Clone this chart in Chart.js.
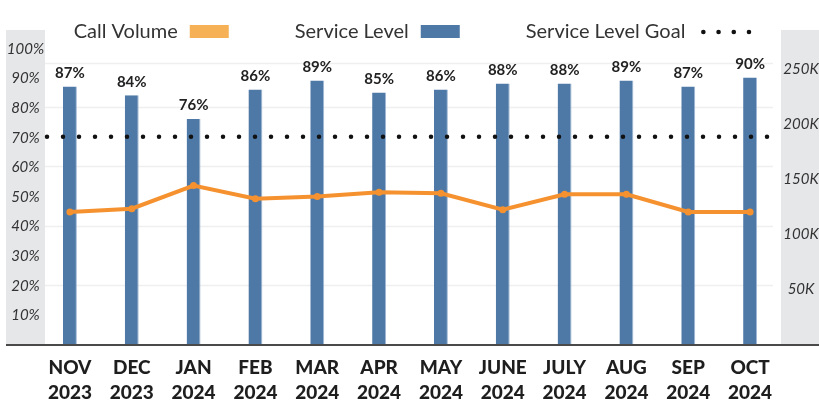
<!DOCTYPE html>
<html>
<head>
<meta charset="utf-8">
<script src="https://cdn.jsdelivr.net/npm/chart.js@4.4.1/dist/chart.umd.min.js"></script>
<style>
  html, body { margin: 0; padding: 0; background: #fff; }
  #wrap { width: 819px; height: 401px; }
</style>
</head>
<body>
<div id="wrap"><canvas id="chart"></canvas></div>
<script>
"use strict";
// data
const months = [
  ["NOV", "2023"], ["DEC", "2023"], ["JAN", "2024"], ["FEB", "2024"],
  ["MAR", "2024"], ["APR", "2024"], ["MAY", "2024"], ["JUNE", "2024"],
  ["JULY", "2024"], ["AUG", "2024"], ["SEP", "2024"], ["OCT", "2024"]
];
const serviceLevel = [87, 84, 76, 86, 89, 85, 86, 88, 88, 89, 87, 90];      // %
const callVolume = [120, 123, 144, 132, 134, 138, 137, 122, 136, 136, 120, 120]; // thousands
const serviceLevelGoal = 70; // %
const gridValues = [20, 40, 60, 80, 95];

const BLUE = "#4e79a7";
const ORANGE = "#f5922f";
const ORANGE_KEY = "#f6b056";
const FONT = "Lato, 'Open Sans', sans-serif";

const decor = {
  id: "decor",
  beforeDraw(chart) {
    const { ctx, chartArea } = chart;
    const top = chartArea.top - 18;
    ctx.save();
    ctx.fillStyle = "#e6e7e9";
    ctx.fillRect(6, top, chartArea.left, chartArea.bottom - top);
    ctx.fillRect(chartArea.right, top, chart.width - chartArea.right, chartArea.bottom - top);
    ctx.restore();
  },
  beforeDatasetsDraw(chart) {
    const { ctx, chartArea, scales } = chart;
    ctx.save();
    ctx.strokeStyle = "#efefef";
    ctx.lineWidth = 1.5;
    gridValues.forEach((v) => {
      const py = Math.round(scales.y.getPixelForValue(v)) + 0.5;
      ctx.beginPath();
      ctx.moveTo(chartArea.left + 6, py);
      ctx.lineTo(chartArea.right - 8, py);
      ctx.stroke();
    });
    // axis tick labels, centred in the grey side panels
    ctx.font = "italic 15px " + FONT;
    ctx.fillStyle = "#333";
    ctx.textAlign = "center";
    ctx.textBaseline = "middle";
    const lx = (6 + chartArea.left + 6) / 2;
    scales.y.ticks.forEach((t) => {
      if (t.value === 0) return;
      ctx.fillText(t.value + "%", lx, scales.y.getPixelForValue(t.value) + 1);
    });
    const rx = (chartArea.right + chart.width) / 2 + 1;
    scales.y1.ticks.forEach((t) => {
      if (t.value === 0 || t.value % 50 !== 0) return;
      ctx.fillText(t.value + "K", rx, scales.y1.getPixelForValue(t.value));
    });
    ctx.restore();
  },
  afterDatasetsDraw(chart) {
    const { ctx, chartArea, scales } = chart;
    ctx.save();
    // bar value labels
    const meta = chart.getDatasetMeta(0);
    ctx.font = "bold 15px " + FONT;
    ctx.fillStyle = "#222";
    ctx.textAlign = "center";
    ctx.textBaseline = "bottom";
    meta.data.forEach((bar, i) => {
      ctx.fillText(serviceLevel[i] + "%", bar.x, bar.y - 6);
    });
    // goal dotted line
    const gy = scales.y.getPixelForValue(serviceLevelGoal);
    ctx.strokeStyle = "#111";
    ctx.lineWidth = 4.5;
    ctx.lineCap = "round";
    ctx.setLineDash([0, 16]);
    ctx.beginPath();
    ctx.moveTo(chartArea.left + 8, gy);
    ctx.lineTo(chartArea.right, gy);
    ctx.stroke();
    ctx.setLineDash([]);
    // baseline
    ctx.strokeStyle = "#4a4a4a";
    ctx.lineWidth = 2;
    ctx.lineCap = "butt";
    ctx.beginPath();
    ctx.moveTo(6, chartArea.bottom + 1);
    ctx.lineTo(chart.width, chartArea.bottom + 1);
    ctx.stroke();
    // legend
    const items = [
      { text: "Call Volume", key: "box", color: ORANGE_KEY },
      { text: "Service Level", key: "box", color: BLUE },
      { text: "Service Level Goal", key: "dots", color: "#111" }
    ];
    ctx.font = "20px " + FONT;
    ctx.textAlign = "left";
    ctx.textBaseline = "middle";
    const ly = 32;
    const widths = items.map((it) => ctx.measureText(it.text).width + (it.key === "box" ? 12 + 39 : 18 + 46));
    const gap = 66;
    const total = widths.reduce((a, b) => a + b, 0) + gap * (items.length - 1);
    let x = (chart.width - total) / 2 + 2;
    items.forEach((it, i) => {
      ctx.fillStyle = "#333";
      ctx.fillText(it.text, x, ly);
      const tx = x + ctx.measureText(it.text).width;
      ctx.fillStyle = it.color;
      if (it.key === "box") {
        ctx.fillRect(tx + 12, ly - 7, 39, 13);
      } else {
        for (let k = 0; k < 4; k++) {
          ctx.beginPath();
          ctx.arc(tx + 18 + k * 15.2, ly, 2.3, 0, Math.PI * 2);
          ctx.fill();
        }
      }
      x += widths[i] + gap;
    });
    ctx.restore();
  }
};

new Chart(document.getElementById("chart"), {
  data: {
    labels: months,
    datasets: [
      {
        type: "bar",
        label: "Service Level",
        data: serviceLevel,
        yAxisID: "y",
        backgroundColor: BLUE,
        borderColor: "#9fb7d3",
        borderWidth: { right: 1 },
        borderSkipped: false,
        categoryPercentage: 0.25,
        barPercentage: 0.9,
        order: 2
      },
      {
        type: "line",
        label: "Call Volume",
        data: callVolume,
        yAxisID: "y1",
        borderColor: ORANGE,
        backgroundColor: ORANGE,
        borderWidth: 4,
        pointRadius: 3.5,
        pointBackgroundColor: ORANGE,
        pointBorderWidth: 0,
        tension: 0,
        order: 1
      }
    ]
  },
  options: {
    responsive: true,
    maintainAspectRatio: false,
    animation: false,
    layout: { padding: { left: 6, right: 0, top: 48, bottom: 0 } },
    plugins: { legend: { display: false }, tooltip: { enabled: false } },
    scales: {
      x: {
        offset: true,
        grid: { display: false },
        border: { display: false },
        ticks: {
          color: "#1e1e1e",
          font: { family: FONT, size: 19, weight: "900", lineHeight: 1.3 },
          maxRotation: 0,
          autoSkip: false,
          padding: 4
        },
        afterFit(s) { s.height = 57; }
      },
      y: {
        position: "left",
        min: 0,
        max: 100,
        grid: { display: false },
        border: { display: false },
        ticks: { display: false, stepSize: 10 },
        afterFit(s) { s.width = 33; }
      },
      y1: {
        position: "right",
        min: 0,
        max: 269,
        grid: { display: false },
        border: { display: false },
        ticks: { display: false, stepSize: 50 },
        afterFit(s) { s.width = 38; }
      }
    }
  },
  plugins: [decor]
});
</script>
</body>
</html>
